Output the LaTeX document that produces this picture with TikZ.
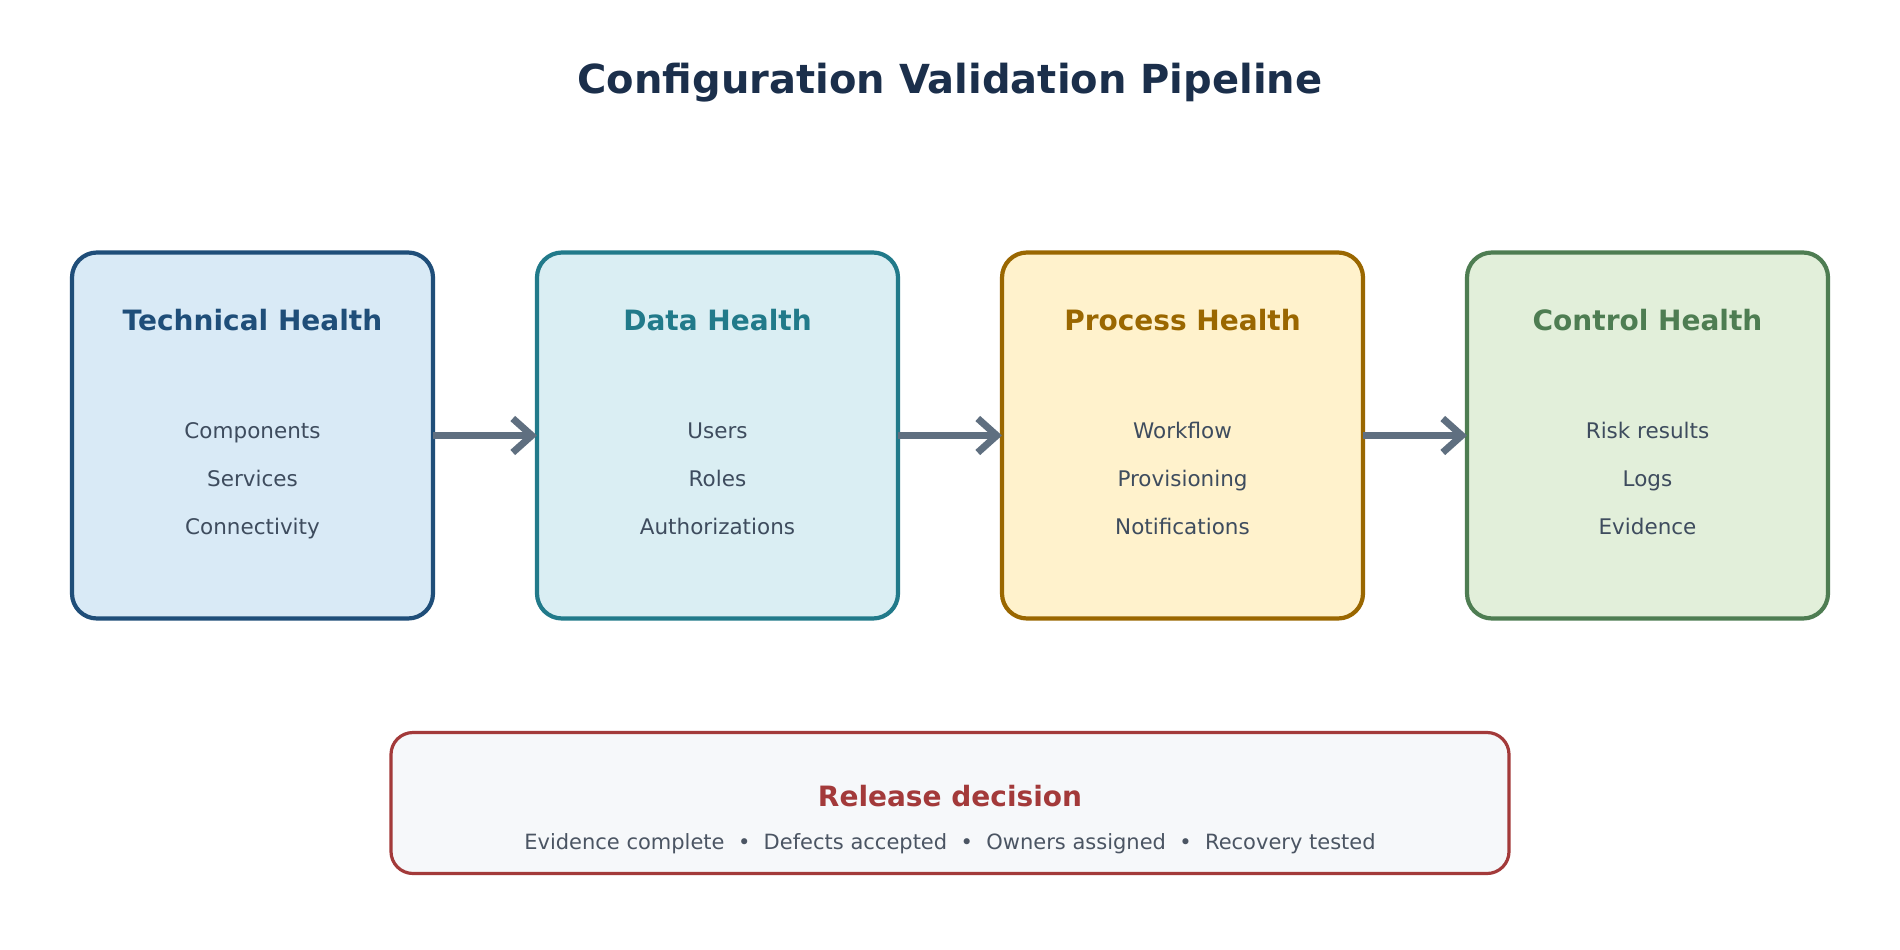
\documentclass[tikz,border=0pt]{standalone}
\usepackage{fontspec}
\setmainfont{DejaVu Sans}
\usetikzlibrary{arrows.meta}
\definecolor{titlec}{HTML}{1B2F4B}
\definecolor{itemc}{HTML}{3E4C5E}
\definecolor{arrowc}{HTML}{5F6F80}
\definecolor{bAs}{HTML}{1F4E79}\definecolor{bAf}{HTML}{D9EAF6}
\definecolor{bBs}{HTML}{217A8A}\definecolor{bBf}{HTML}{DAEEF3}
\definecolor{bCs}{HTML}{9A6700}\definecolor{bCf}{HTML}{FFF2CC}
\definecolor{bDs}{HTML}{4E7D52}\definecolor{bDf}{HTML}{E2EFDA}
\definecolor{relS}{HTML}{A33A3A}\definecolor{relF}{HTML}{F6F8FA}
\definecolor{subc}{HTML}{4B5563}
\tikzset{
  stagebox/.style={draw=#1s, fill=#1f, line width=4.2pt, rounded corners=25pt,
    minimum width=361pt, minimum height=366pt, inner sep=0pt, outer sep=0pt},
  stagetitle/.style={anchor=base, text=#1, font=\fontsize{28}{33}\selectfont\bfseries, inner sep=0pt},
  itemtxt/.style={anchor=base, text=itemc, font=\fontsize{21.5}{26}\selectfont, inner sep=0pt},
  flow/.style={draw=arrowc, line width=7.5pt, -{Straight Barb[length=19pt,width=34pt,line width=7pt]}, shorten >=0pt},
}
\begin{document}
\begin{tikzpicture}[x=1pt,y=-1pt]
\useasboundingbox (0,0) rectangle (1900,950);
\fill[white] (0,0) rectangle (1900,950);
\node[anchor=base, text=titlec, font=\fontsize{40}{48}\selectfont\bfseries, inner sep=0pt] (title) at (950,93) {Configuration Validation Pipeline};

\node[stagebox=bA] (b1) at (252.5,435.5) {};
\node[stagebox=bB] (b2) at (717.5,435.5) {};
\node[stagebox=bC] (b3) at (1182.5,435.5) {};
\node[stagebox=bD] (b4) at (1647.5,435.5) {};

\node[stagetitle=bAs] (t1) at (252.5,330) {Technical Health};
\node[stagetitle=bBs] (t2) at (717.5,330) {Data Health};
\node[stagetitle=bCs] (t3) at (1182.5,330) {Process Health};
\node[stagetitle=bDs] (t4) at (1647.5,330) {Control Health};

\node[itemtxt] (i11) at (252.5,438.5) {Components};
\node[itemtxt] (i12) at (252.5,486.5) {Services};
\node[itemtxt] (i13) at (252.5,534.5) {Connectivity};
\node[itemtxt] (i21) at (717.5,438.5) {Users};
\node[itemtxt] (i22) at (717.5,486.5) {Roles};
\node[itemtxt] (i23) at (717.5,534.5) {Authorizations};
\node[itemtxt] (i31) at (1182.5,438.5) {Workflow};
\node[itemtxt] (i32) at (1182.5,486.5) {Provisioning};
\node[itemtxt] (i33) at (1182.5,534.5) {Notifications};
\node[itemtxt] (i41) at (1647.5,438.5) {Risk results};
\node[itemtxt] (i42) at (1647.5,486.5) {Logs};
\node[itemtxt] (i43) at (1647.5,534.5) {Evidence};

\draw[flow] (b1.east) -- (b2.west);
\draw[flow] (b2.east) -- (b3.west);
\draw[flow] (b3.east) -- (b4.west);

\node[draw=relS, fill=relF, line width=3.2pt, rounded corners=22pt, minimum width=1118pt, minimum height=141pt, inner sep=0pt] (rel) at (950,803) {};
\node[anchor=base, text=relS, font=\fontsize{28}{33}\selectfont\bfseries, inner sep=0pt] (relt) at (950,806) {Release decision};
\node[anchor=base, text=subc, font=\fontsize{21}{25}\selectfont, inner sep=0pt] (rels) at (950,849) {Evidence complete~~•~~Defects accepted~~•~~Owners assigned~~•~~Recovery tested};
\end{tikzpicture}
\end{document}
